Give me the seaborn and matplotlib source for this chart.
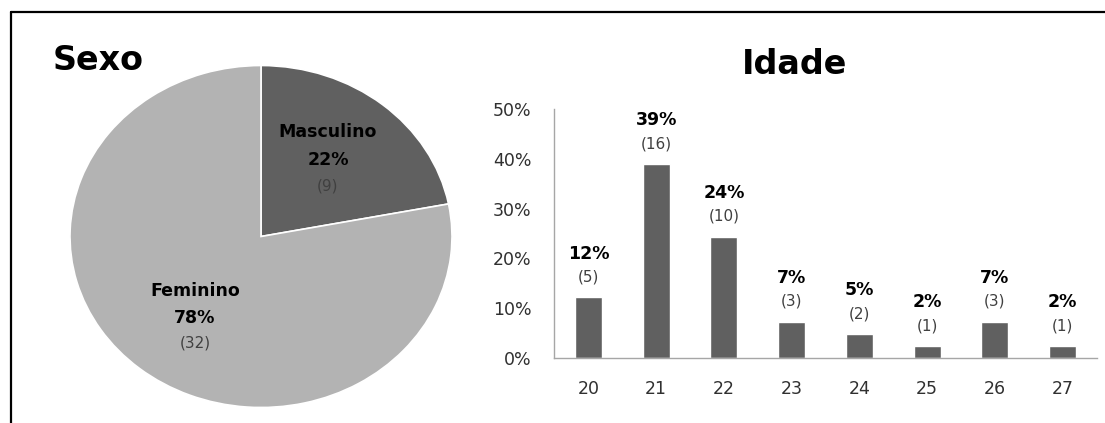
import matplotlib
matplotlib.use("Agg")
import matplotlib.pyplot as plt
from matplotlib.lines import Line2D
import seaborn as sns
import pandas as pd

# Sexo
sexo_labels = ["Masculino", "Feminino"]
sexo_counts = [9, 32]

# Idade
idades = ["20", "21", "22", "23", "24", "25", "26", "27"]
idade_counts = [5, 16, 10, 3, 2, 1, 3, 1]

sns.set_theme(style="white")
plt.rcParams["font.family"] = ["DejaVu Sans"]

DARK = "#606060"
LIGHT = "#b3b3b3"
W, H = 1105, 423


def fx(px):
    return px / W


def fy(py):
    return 1 - py / H


fig = plt.figure(figsize=(W / 100, H / 100), dpi=100)

# Frame lines (top and left)
fig.add_artist(Line2D([fx(10.5), 1.0], [fy(12.5)] * 2, color="black", lw=1.6,
                      transform=fig.transFigure))
fig.add_artist(Line2D([fx(10.5)] * 2, [0.0, fy(12.5)], color="black", lw=1.6,
                      transform=fig.transFigure))

# ---- Pie: Sexo ----
cx, cy, rx, ry = 261, 236.5, 191, 171
ax_pie = fig.add_axes([fx(cx - rx), fy(cy + ry), 2 * rx / W, 2 * ry / H])
total_sexo = sum(sexo_counts)
ax_pie.pie(sexo_counts, colors=[DARK, LIGHT], startangle=90, counterclock=False,
           radius=1.0, wedgeprops=dict(edgecolor="white", linewidth=1.2))
ax_pie.set_xlim(-1, 1)
ax_pie.set_ylim(-1, 1)
ax_pie.set_aspect("auto")
ax_pie.axis("off")

# label anchor positions (pixels): centre x, y of name / pct / count lines
label_pos = {"Masculino": (328, [132, 160, 186]), "Feminino": (195, [291, 318, 343])}
for lab, cnt in zip(sexo_labels, sexo_counts):
    x, ys = label_pos[lab]
    pct = round(100 * cnt / total_sexo)
    fig.text(fx(x), fy(ys[0]), lab, ha="center", va="center", fontsize=12.5,
             fontweight="bold", color="black")
    fig.text(fx(x), fy(ys[1]), f"{pct}%", ha="center", va="center", fontsize=12.5,
             fontweight="bold", color="black")
    fig.text(fx(x), fy(ys[2]), f"({cnt})", ha="center", va="center", fontsize=11,
             color="#404040")

fig.text(fx(98), fy(61), "Sexo", ha="center", va="center", fontsize=24,
         fontweight="bold", color="black")

# ---- Bars: Idade ----
total_idade = sum(idade_counts)
df = pd.DataFrame({"idade": idades, "n": idade_counts})
df["pct"] = df["n"] / total_idade

ax = fig.add_axes([fx(554), fy(358), (1097 - 554) / W, (358 - 109) / H])
sns.barplot(data=df, x="idade", y="pct", color=DARK, width=0.4, saturation=1, ax=ax)
ax.set_ylim(0, 0.5)
ax.set_xlim(-0.51, len(idades) - 0.49)
yt = [0, 0.1, 0.2, 0.3, 0.4, 0.5]
ax.set_yticks(yt)
ax.set_yticklabels([f"{int(round(v * 100))}%" for v in yt])
ax.tick_params(axis="both", length=0, labelsize=12.5, colors="#303030")
ax.tick_params(axis="y", pad=16)
ax.tick_params(axis="x", pad=16)
ax.set_xlabel("")
ax.set_ylabel("")
for s in ["top", "right"]:
    ax.spines[s].set_visible(False)
for s in ["left", "bottom"]:
    ax.spines[s].set_color("#a6a6a6")
    ax.spines[s].set_linewidth(1.0)

for i, (cnt, p) in enumerate(zip(df["n"], df["pct"])):
    ax.annotate(f"{round(p * 100)}%", (i, p), xytext=(0, 31.5), textcoords="offset points",
                ha="center", va="center", fontsize=12.5, fontweight="bold", color="black")
    ax.annotate(f"({cnt})", (i, p), xytext=(0, 14.5), textcoords="offset points",
                ha="center", va="center", fontsize=11, color="#404040")

fig.text(fx(795), fy(64), "Idade", ha="center", va="center", fontsize=24,
         fontweight="bold", color="black")

fig.savefig("out.png", dpi=100, facecolor="white")
